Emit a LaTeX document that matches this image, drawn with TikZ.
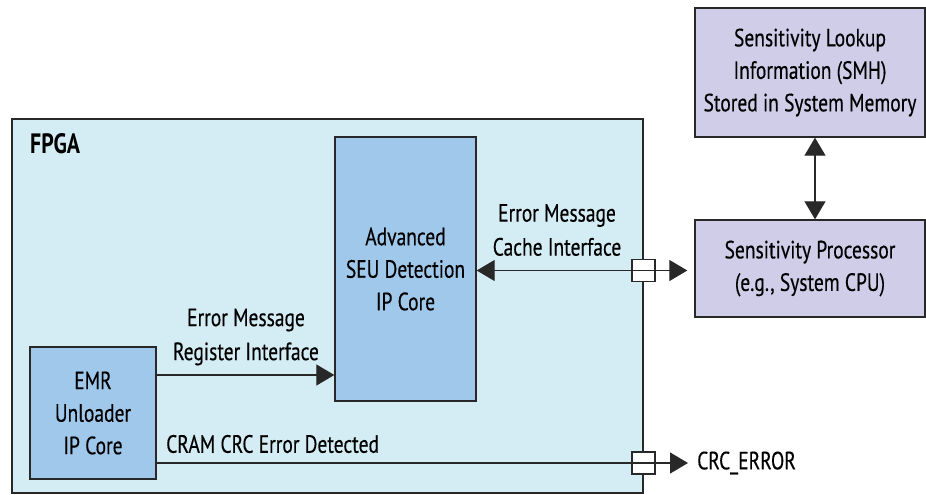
\documentclass[tikz,border=0pt]{standalone}
\usepackage{fontspec}
\setmainfont[FakeStretch=0.78,UprightFeatures={FakeBold=0.35}]{PT Sans}
\usetikzlibrary{arrows.meta}
\definecolor{fpgafill}{RGB}{212,236,243}
\definecolor{bluebox}{RGB}{160,200,234}
\definecolor{purplebox}{RGB}{207,205,232}
\definecolor{edge}{RGB}{40,40,40}
\tikzset{
  box/.style={draw=edge, line width=1.4pt, inner sep=0pt, align=center,
    font=\fontsize{25}{32.5}\selectfont, text=black},
  bluestyle/.style={box, fill=bluebox},
  purplestyle/.style={box, fill=purplebox},
  port/.style={draw=edge, line width=1.4pt, fill=white, minimum width=23pt, minimum height=22pt, inner sep=0pt},
  lbl/.style={font=\fontsize{25}{34}\selectfont, align=center, inner sep=0pt, text=black},
  conn/.style={draw=edge, line width=1.3pt},
  tip/.style={-{Triangle[length=18pt,width=21pt]}},
  tips/.style={{Triangle[length=18pt,width=21pt]}-{Triangle[length=18pt,width=21pt]}}
}
\begin{document}
\begin{tikzpicture}[x=1pt,y=-1pt]
\useasboundingbox (0,0) rectangle (926,495);
% FPGA container
\node[box, fill=fpgafill, minimum width=631pt, minimum height=374pt] (fpga) at (327.5,306) {};
\node[anchor=base west, inner sep=0pt, font=\fontsize{28}{30}\selectfont\bfseries] (fpgalbl) at (30,153) {FPGA};
% blocks
\node[bluestyle, minimum width=141pt, minimum height=264pt] (seu) at (405.5,269) {Advanced\\SEU Detection\\IP Core};
\node[bluestyle, minimum width=126pt, minimum height=132pt] (emr) at (93,413) {EMR\\Unloader\\IP Core};
\node[purplestyle, minimum width=230pt, minimum height=129pt] (lookup) at (810,72.5) {Sensitivity Lookup\\Information (SMH)\\Stored in System Memory};
\node[purplestyle, minimum width=230pt, minimum height=97pt] (proc) at (810,268.5) {Sensitivity Processor\\(e.g., System CPU)};
% ports
\node[port] (p1) at (643.5,270.5) {};
\node[port] (p2) at (643.5,463) {};
\coordinate (crcend) at (688,463);
\node[anchor=west, inner sep=0pt, font=\fontsize{25}{30}\selectfont] (crc) at (697,463) {CRC\_ERROR};
% connectors
\draw[conn, tip] (emr.east |- 0,375) -- (seu.west |- 0,375);
\draw[conn, tips, shorten >=7pt] (seu.east |- 0,270.5) -- (proc.west |- 0,270.5);
\draw[conn] (p1.west) -- (p1.east);
\draw[conn, tips] (lookup.south -| 815,0) -- (proc.north -| 815,0);
\draw[conn, tip] (emr.east |- 0,463) -- (crcend);
\draw[conn] (p2.west) -- (p2.east);
% labels
\node[lbl] (l1) at (557,230) {Error Message\\Cache Interface};
\node[lbl] (l2) at (246,337) {Error Message\\Register Interface};
\node[lbl, anchor=west] (l3) at (166,444) {CRAM CRC Error Detected};
\end{tikzpicture}
\end{document}
